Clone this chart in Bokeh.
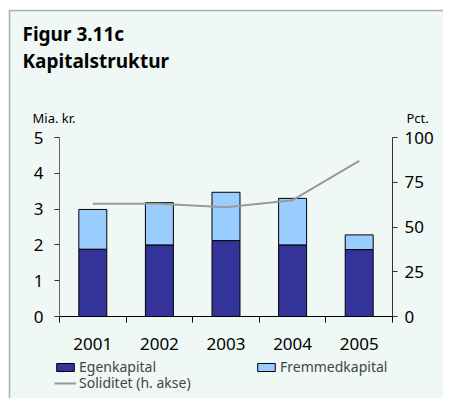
from bokeh.plotting import figure
from bokeh.models import (ColumnDataSource, Range1d, LinearAxis, FixedTicker,
                          Legend, LegendItem, Label, BoxAnnotation)
from bokeh.embed import file_html
from bokeh.resources import INLINE

years = [2001, 2002, 2003, 2004, 2005]
egenkapital = [1.88, 2.00, 2.12, 2.00, 1.87]
fremmedkapital = [1.11, 1.18, 1.35, 1.30, 0.41]
soliditet = [63, 63, 61, 65, 87]
left_ticks = [0, 1, 2, 3, 4, 5]
right_ticks = [0, 25, 50, 75, 100]
boundaries = [2000.5, 2001.5, 2002.5, 2003.5, 2004.5, 2005.5]

BG = "#EFF8F5"
FONT = "Noto Sans"

# canvas geometry (pixels) -> ranges so that the frame fills the canvas
W, H = 443, 398
AX_LEFT, AX_RIGHT = 59, 392      # canvas x of 2000.5 and 2005.5
Y0, Y5 = 316, 137                # canvas y (from top) of 0 and 5
xu = (AX_RIGHT - AX_LEFT) / 5.0
yu = (Y0 - Y5) / 5.0
x_start = 2000.5 - AX_LEFT / xu
x_end = x_start + W / xu
y_start = -(H - Y0) / yu
y_end = y_start + H / yu

src = ColumnDataSource(dict(year=years, egen=egenkapital, frem=fremmedkapital))

p = figure(width=W, height=H, output_backend="svg", toolbar_location=None,
           x_range=Range1d(x_start, x_end), y_range=Range1d(y_start, y_end),
           min_border=0, background_fill_color="white", border_fill_color="white",
           x_axis_location=None, y_axis_location=None)
p.outline_line_color = None
p.grid.visible = False
p.extra_y_ranges = {"pct": Range1d(y_start * 20, y_end * 20)}

# panel background with top/left rule
p.add_layout(BoxAnnotation(left=9, right=W + 10, top=H - 10, bottom=-10,
                           left_units="screen", right_units="screen",
                           top_units="screen", bottom_units="screen",
                           fill_color=BG, fill_alpha=1, line_color="black",
                           line_width=1.5, level="underlay", editable=False))

bars = p.vbar_stack(["egen", "frem"], x="year", width=0.42, source=src,
                    color=["#333399", "#99CCFF"], line_color="black", line_width=1)
line = p.line(years, soliditet, y_range_name="pct", line_color="#999999", line_width=2)

# x axis
xa = LinearAxis(fixed_location=0, bounds=(2000.5, 2005.5),
                ticker=FixedTicker(ticks=years, minor_ticks=boundaries))
xa.major_tick_out = 0
xa.major_tick_in = 0
xa.minor_tick_out = 6
xa.minor_tick_in = 0
xa.minor_tick_line_color = "black"
xa.axis_line_color = "black"
xa.major_label_text_font = FONT
xa.major_label_text_font_size = "17px"
xa.major_label_text_color = "black"
xa.major_label_standoff = 15
p.add_layout(xa, "below")

# left axis
ya = LinearAxis(fixed_location=2000.5, bounds=(0, 5), ticker=FixedTicker(ticks=left_ticks))
ya.major_tick_out = 5
ya.major_tick_in = 0
ya.minor_tick_out = 0
ya.minor_tick_in = 0
ya.axis_line_color = "#666666"
ya.major_tick_line_color = "#333333"
ya.major_label_text_font = FONT
ya.major_label_text_font_size = "17px"
ya.major_label_text_color = "black"
ya.major_label_standoff = 11
p.add_layout(ya, "left")

# right axis
ra = LinearAxis(y_range_name="pct", fixed_location=2005.5, bounds=(0, 100),
                ticker=FixedTicker(ticks=right_ticks))
ra.major_tick_out = 5
ra.major_tick_in = 0
ra.minor_tick_out = 0
ra.minor_tick_in = 0
ra.axis_line_color = "#333333"
ra.major_tick_line_color = "#333333"
ra.major_label_text_font = FONT
ra.major_label_text_font_size = "17px"
ra.major_label_text_color = "black"
ra.major_label_standoff = 7
p.add_layout(ra, "right")

# titles and unit labels (screen units, from canvas bottom-left)
for txt, x, y, size, style in [
    ("Figur 3.11c", 22, H - 33, "19px", "bold"),
    ("Kapitalstruktur", 22, H - 60, "19px", "bold"),
    ("Mia. kr.", 32, H - 117, "13px", "normal"),
    ("Pct.", 406, H - 117, "13px", "normal"),
]:
    p.add_layout(Label(x=x, y=y, x_units="screen", y_units="screen", text=txt,
                       text_font=FONT, text_font_size=size, text_font_style=style,
                       text_color="black", text_baseline="alphabetic"))

leg1 = Legend(items=[LegendItem(label="Egenkapital", renderers=[bars[0]]),
                     LegendItem(label="Fremmedkapital", renderers=[bars[1]])],
              orientation="horizontal", location=(54, 22),
              glyph_width=22, glyph_height=10, label_standoff=3,
              label_width=170, spacing=6, padding=0, margin=0,
              label_text_font=FONT, label_text_font_size="14px",
              background_fill_alpha=0, border_line_color=None, label_height=14)
leg2 = Legend(items=[LegendItem(label="Soliditet (h. akse)", renderers=[line])],
              location=(54, 6),
              glyph_width=22, glyph_height=10, label_standoff=3,
              padding=0, margin=0,
              label_text_font=FONT, label_text_font_size="14px",
              background_fill_alpha=0, border_line_color=None, label_height=14)
p.add_layout(leg1, "center")
p.add_layout(leg2, "center")

open("out.html", "w").write(file_html(p, INLINE))
